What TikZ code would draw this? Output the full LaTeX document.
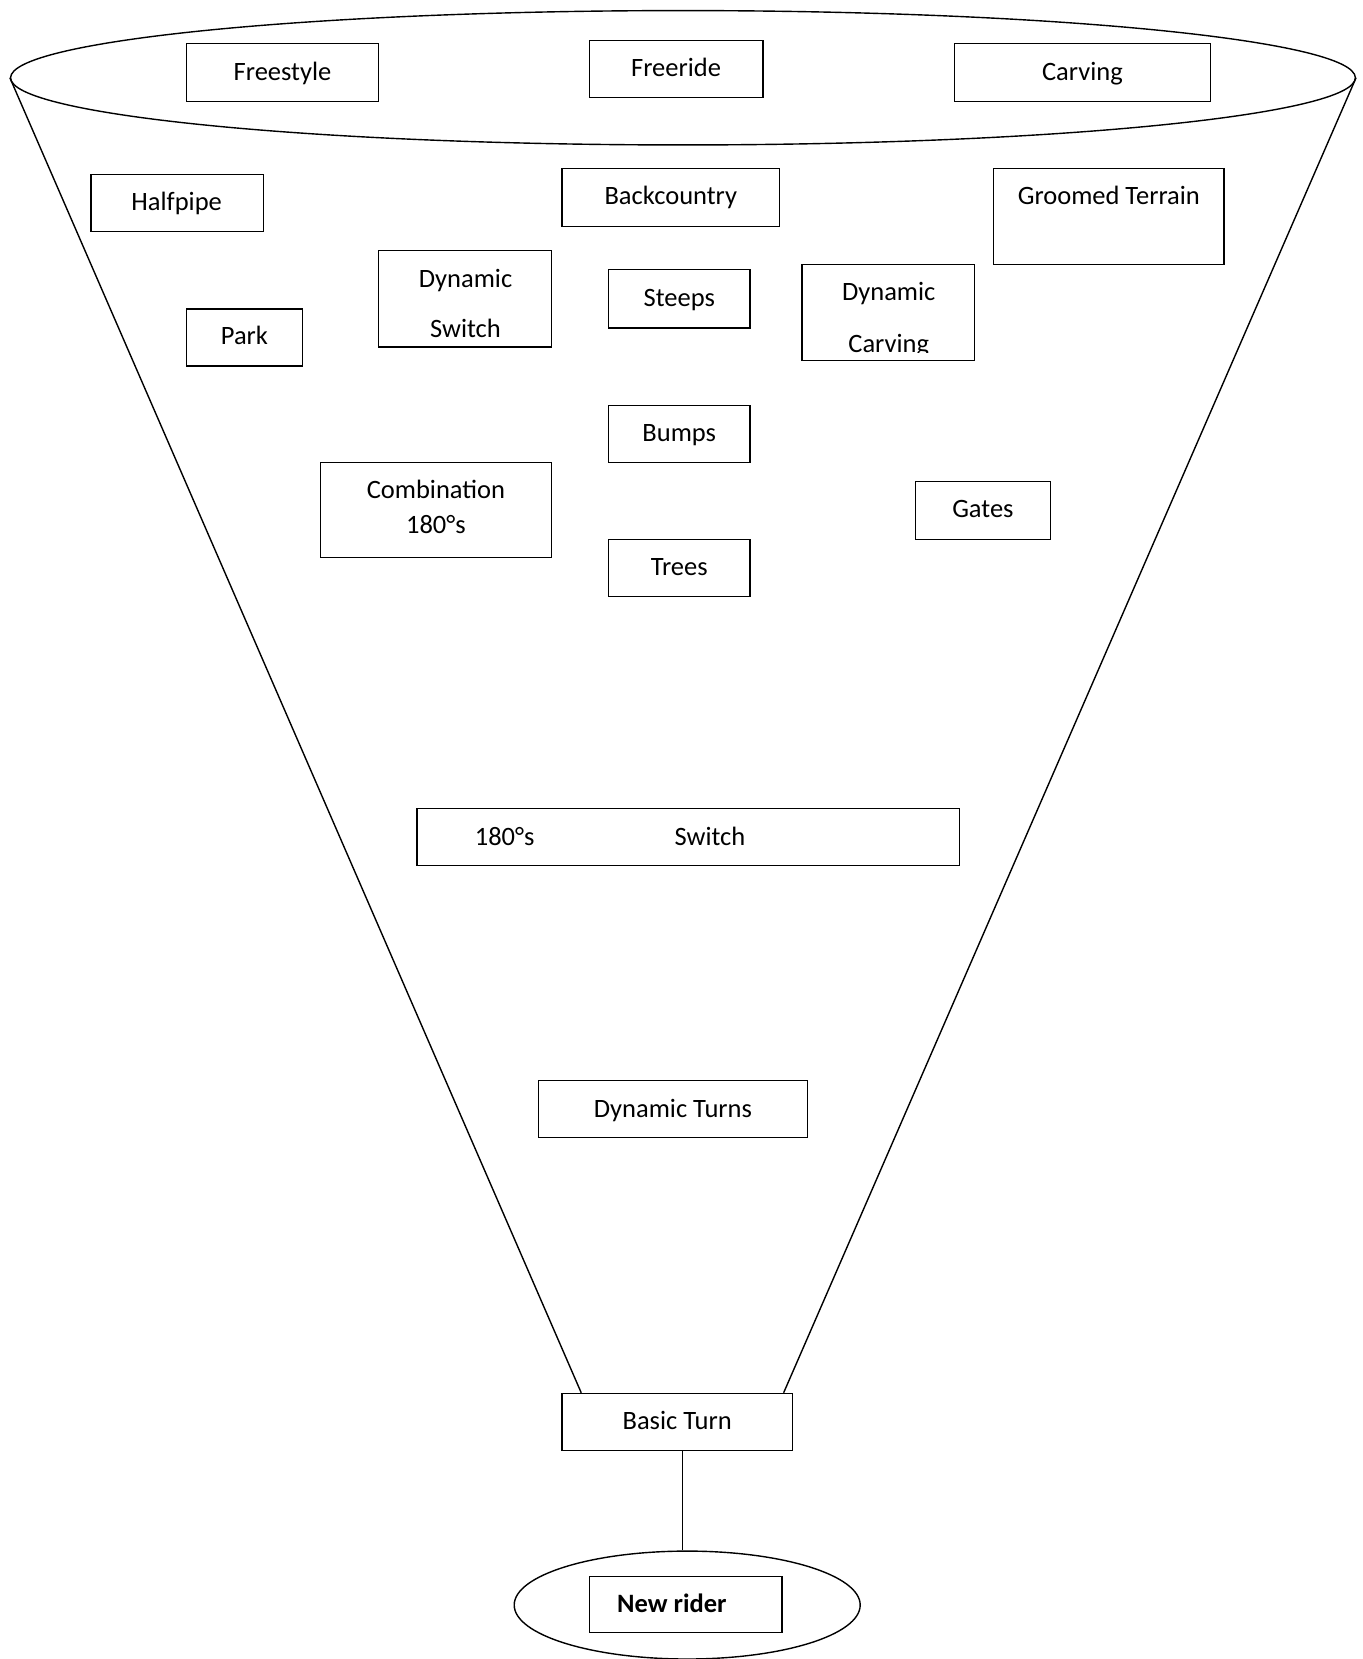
\documentclass[tikz,border=0pt]{standalone}
\usepackage{fontspec}
\setmainfont{Carlito}
\usetikzlibrary{fit,calc,shapes.geometric}
\newlength{\uu}
\setlength{\uu}{1.0582pt}
\tikzset{
  box/.style={draw, line width=1.4pt, inner sep=0pt},
  txt/.style={inner sep=0pt, anchor=base},
  oval/.style={draw, line width=1.4pt, ellipse, inner sep=0pt},
  funnel/.style={line width=1.4pt}
}
\begin{document}
\begin{tikzpicture}[x=1.0582pt, y=-1.0582pt, font=\fontsize{26.5}{32}\selectfont]
\useasboundingbox (0,0) rectangle (1288,1568);
% top ellipse
\node[oval, minimum width=1271\uu, minimum height=127\uu] (top) at (645.5,73.5) {};
% top row
\node[box, fit={(176,41) (358,96)}] (freestyle) {};
\node[txt] (freestylet) at (267,76) {Freestyle};
\node[box, fit={(557,38) (721,92)}] (freeride) {};
\node[txt] (freeridet) at (639,72) {Freeride};
\node[box, fit={(902,41) (1144,96)}] (carving) {};
\node[txt] (carvingt) at (1023,76) {Carving};
% second row
\node[box, fit={(86,165) (249,219)}] (halfpipe) {};
\node[txt] (halfpipet) at (167,199) {Halfpipe};
\node[box, fit={(531,159) (737,214)}] (backcountry) {};
\node[txt] (backcountryt) at (634,193) {Backcountry};
\node[box, fit={(939,159) (1157,250)}] (groomed) {};
\node[txt] (groomedt) at (1048,193) {Groomed Terrain};
% dynamic switch
\node[box, fit={(358,237) (521,328)}] (dynswitch) {};
\node[txt] (dynswitcha) at (440,272) {Dynamic};
\node[txt] (dynswitchb) at (440,319) {Switch};
\node[box, fit={(575,255) (709,310)}] (steeps) {};
\node[txt] (steepst) at (642,290) {Steeps};
% dynamic carving (second line clipped at its baseline)
\node[box, fit={(758,250) (921,341)}] (dyncarving) {};
\node[txt] (dyncarvinga) at (840,284) {Dynamic};
\begin{scope}
\clip (758,295) rectangle (921,333);
\node[txt] (dyncarvingb) at (840,333) {Carving};
\end{scope}
\node[box, fit={(176,292) (286,346)}] (park) {};
\node[txt] (parkt) at (231,326) {Park};
\node[box, fit={(575,383) (709,437)}] (bumps) {};
\node[txt] (bumpst) at (642,417) {Bumps};
\node[box, fit={(303,437) (521,527)}] (combo) {};
\node[txt] (comboa) at (412,471) {Combination};
\node[txt] (combob) at (412,504) {180°s};
\node[box, fit={(865,455) (993,510)}] (gates) {};
\node[txt] (gatest) at (929,489) {Gates};
\node[box, fit={(575,510) (709,564)}] (trees) {};
\node[txt] (treest) at (642,544) {Trees};
% 180s switch
\node[box, fit={(394,764) (907,818)}] (oneeighty) {};
\node[txt] (oneeightya) at (477,799) {180°s};
\node[txt] (oneeightyb) at (671,799) {Switch};
% lower
\node[box, fit={(509,1021) (763,1075)}] (dynturns) {};
\node[txt] (dynturnst) at (636,1056) {Dynamic Turns};
\node[box, fit={(531,1317) (749,1371)}] (basic) {};
\node[txt] (basict) at (640,1351) {Basic Turn};
% bottom ellipse
\node[oval, minimum width=327\uu, minimum height=102\uu] (rider) at (649.5,1517) {};
\node[box, fit={(557,1490) (739,1543)}] (newrider) {};
\node[txt, font=\fontsize{26.5}{32}\selectfont\bfseries] (newridert) at (635,1524) {New rider};
% funnel sides
\draw[funnel] (top.west) -- ($(basic.north west)+(19,0)$);
\draw[funnel] (top.east) -- ($(basic.north east)+(-9,0)$);
% stem
\coordinate (stem) at ($(basic.south)+(5,0)$);
\draw[funnel] (stem) -- (stem |- rider.north);
\end{tikzpicture}
\end{document}
